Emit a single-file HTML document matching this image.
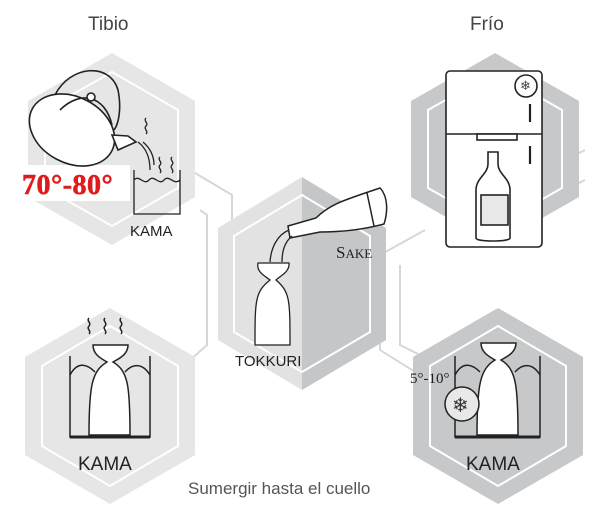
<!DOCTYPE html>
<html><head><meta charset="utf-8"><style>
html,body{margin:0;padding:0;background:#fff;}
svg{display:block;font-family:"Liberation Sans",sans-serif;}
</style></head><body>
<svg width="600" height="505" viewBox="0 0 600 505" xmlns="http://www.w3.org/2000/svg">
<g stroke="#d6d7d8" stroke-width="2" fill="none">
<path d="M190 170 L232 195 L232 235"/>
<path d="M200 210 L207 215 L207 345 L190 360"/>
<path d="M380 255 L425 230"/>
<path d="M400 265 L400 345 L420 355"/>
<path d="M380 330 L380 350 L420 375"/>
<path d="M575 155 L585 150"/><path d="M575 185 L585 180"/>
</g>
<polygon points="112,53 195,101 195,197 112,245 28,197 28,101" fill="#e6e6e7"/>
<polygon points="112,72 178,110 178,188 112,226 45,188 45,110" fill="none" stroke="#fff" stroke-width="2"/>
<polygon points="110,308 195,357 195,455 110,504 25,455 25,357" fill="#e6e6e7"/>
<polygon points="110,326 178,366 178,446 110,486 42,446 42,366" fill="none" stroke="#fff" stroke-width="2"/>
<polygon points="495,53 579,101 579,197 495,245 411,197 411,101" fill="#c6c8c9"/>
<polygon points="495,72 562,110 562,188 495,226 428,188 428,110" fill="none" stroke="#fff" stroke-width="2"/>
<polygon points="498,308 583,357 583,455 498,504 413,455 413,357" fill="#c6c8c9"/>
<polygon points="498,326 566,366 566,446 498,486 430,446 430,366" fill="none" stroke="#fff" stroke-width="2"/>
<polygon points="302,177 386,228 386,340 302,390 218,340 218,228" fill="#e2e2e3"/>
<polygon points="302,177 386,228 386,340 302,390" fill="#c4c6c7"/>
<polygon points="302,195 370,236 370,332 302,372 234,332 234,236" fill="none" stroke="#fff" stroke-width="2"/>
<rect x="18" y="165" width="112" height="36" fill="#fff"/>
<g stroke="#222" stroke-width="1.6" fill="#fff">
<path d="M55 95 C70 65 110 62 118 90 C122 110 118 125 114 130" fill="none"/>
<ellipse cx="72" cy="130" rx="45" ry="33" transform="rotate(28 72 130)"/>
<path d="M60 110 C80 90 105 95 112 125" fill="none"/>
<circle cx="91" cy="97" r="4"/>
<path d="M112 135 L128 136 L136 142 L118 150 Z"/>
</g>
<g stroke="#222" stroke-width="1.3" fill="none">
<path d="M138 142 C146 148 150 158 150 170"/><path d="M143 142 C150 148 154 156 154 165"/>
<path d="M146 118 c-3 3 3 5 0 8 c-3 3 3 5 0 8"/>
<path d="M160 157 c-3 3 3 5 0 8 c-3 3 3 5 0 8"/><path d="M172 157 c-3 3 3 5 0 8 c-3 3 3 5 0 8"/>
<path d="M134 170 L134 214 L180 214 L180 170"/>
<path d="M134 180 c5 -6 10 6 15 0 c5 -6 10 6 15 0 c5 -6 10 6 16 0"/>
</g>
<text x="22" y="194" font-family="Liberation Serif,serif" font-weight="bold" font-size="28" letter-spacing="0.5" fill="#e01b1b" stroke="#e01b1b" stroke-width="0.6">70°-80°</text>
<text x="130" y="236" font-size="15" fill="#222">KAMA</text>
<text x="88" y="30" font-size="19" fill="#444">Tibio</text>
<text x="470" y="30" font-size="19" fill="#444">Frío</text>
<g stroke="#222" stroke-width="1.6" fill="#fff">
<rect x="446" y="71" width="96" height="176" rx="4"/>
<line x1="446" y1="134" x2="542" y2="134"/>
<rect x="477" y="134" width="40" height="6"/>
<line x1="530" y1="104" x2="530" y2="122" stroke-width="2.2"/>
<line x1="530" y1="146" x2="530" y2="164" stroke-width="2.2"/>
<circle cx="526" cy="86" r="11"/>
<path d="M488 152 h10 v12 c0 10 12 14 12 26 v48 c0 4 -34 4 -34 0 v-48 c0 -12 12 -16 12 -26 Z" fill="#fff"/>
<rect x="481" y="195" width="27" height="30" fill="#e8e8e8"/>
</g>
<text x="520" y="90" font-size="13" fill="#444">❄</text>
<g stroke="#222" stroke-width="1.5" fill="#fff">
<path d="M288 226 L316 218 C330 204 345 200 374 190 L380 188 C388 196 388 212 384 224 C362 230 340 232 320 232 L290 238 Z"/>
<path d="M367 193 L374 226"/>
</g>
<g stroke="#222" stroke-width="1.3" fill="none">
<path d="M289 230 C277 235 271 248 270 262"/><path d="M292 236 C285 242 282 250 282 262"/>
<path d="M258 263 L289 263 C290 272 280 276 276 280 C290 292 290 300 290 345 L255 345 C255 300 255 292 270 280 C265 276 256 272 258 263 Z" fill="#fff"/>
</g>
<text x="336" y="258" font-family="Liberation Serif,serif" font-size="17" fill="#222">S<tspan font-size="13">AKE</tspan></text>
<text x="235" y="366" font-size="15" fill="#222">TOKKURI</text>
<g stroke="#222" stroke-width="1.5" fill="none">
<path d="M89 318 c-3 3 3 5 0 8 c-3 3 3 5 0 8"/><path d="M105 318 c-3 3 3 5 0 8 c-3 3 3 5 0 8"/><path d="M121 318 c-3 3 3 5 0 8 c-3 3 3 5 0 8"/>
<path d="M70 356 L70 437 L150 437 L150 356"/>
<path d="M70 375 c8 -15 18 -10 25 -3"/><path d="M125 372 c7 -8 17 -10 25 3"/>
<path d="M93 345 L128 345 C128 355 118 359 113 362 C128 371 130 385 130 435 L89 435 C89 385 92 371 107 362 C102 359 93 355 93 345 Z" fill="#fff"/>
<line x1="70" y1="437" x2="150" y2="437" stroke-width="3"/>
</g>
<text x="78" y="470" font-size="19" fill="#222">KAMA</text>
<g stroke="#222" stroke-width="1.5" fill="none">
<path d="M455 356 L455 437 L540 437 L540 356"/>
<path d="M455 375 c8 -15 18 -10 25 -3"/><path d="M515 372 c7 -8 17 -10 25 3"/>
<path d="M481 343 L516 343 C516 353 506 357 501 360 C516 369 518 385 518 435 L477 435 C477 385 480 369 495 360 C490 357 481 353 481 343 Z" fill="#fff"/>
<line x1="455" y1="437" x2="540" y2="437" stroke-width="3"/>
<circle cx="462" cy="404" r="17" fill="#e8e8e8"/>
</g>
<text x="452" y="412" font-size="20" fill="#333">❄</text>
<text x="410" y="383" font-family="Liberation Serif,serif" font-size="15" fill="#222">5°-10°</text>
<text x="466" y="470" font-size="19" fill="#222">KAMA</text>
<text x="188" y="494" font-size="17" fill="#555">Sumergir hasta el cuello</text>
</svg>
</body></html>
